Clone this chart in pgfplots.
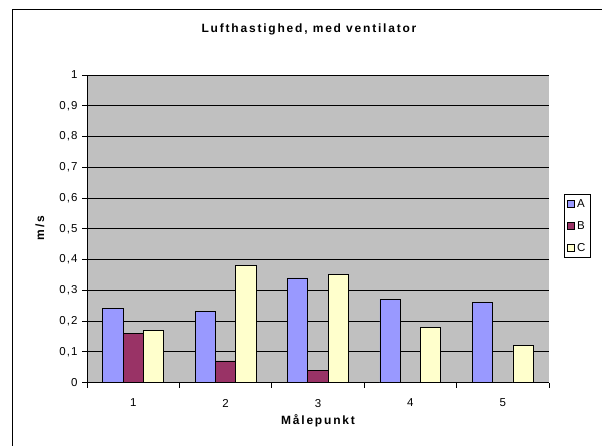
\documentclass[border=0pt]{standalone}
\usepackage{fontspec}
\setmainfont{Liberation Sans}
\newcommand\spbold{\fontsize{12}{14}\selectfont\bfseries\addfontfeature{LetterSpace=15}}
\newfontfamily\tkfont[LetterSpace=9]{Liberation Sans}
\usepackage{pgfplots}
\pgfplotsset{compat=1.18}
\definecolor{ca}{HTML}{9999FF}
\definecolor{cb}{HTML}{993366}
\definecolor{cc}{HTML}{FFFFCC}
\definecolor{bg}{HTML}{C0C0C0}
\begin{document}
\begin{tikzpicture}[x=1pt,y=1pt]
\path[use as bounding box] (0,0) rectangle (602,445);
\draw[line width=1pt] (12,-3) -- (12,435) -- (605,435);
\node at (309,416) {\spbold Lufthastighed, med ventilator};
\begin{axis}[
  at={(87pt,62.5pt)}, anchor=south west,
  width=462pt, height=307.5pt, scale only axis,
  ybar=0pt, bar width=20.3pt,
  xmin=0.5, xmax=5.5, ymin=0, ymax=1,
  axis background/.style={fill=bg},
  axis lines*=left, axis line style={-, black, line width=0.8pt},
  ytick={0,0.1,0.2,0.3,0.4,0.5,0.6,0.7,0.8,0.9,1},
  ymajorgrids, grid style={black, line width=0.7pt},
  xtick={1,2,3,4,5},
  major x tick style={draw=none},
  minor xtick={0.5,1.5,2.5,3.5,4.5,5.5},
  tick align=outside, major tick length=5pt, minor tick length=5pt,
  tick style={black, line width=0.8pt},
  /pgf/number format/assume math mode=true,
  ticklabel style={font=\fontsize{11.5}{13}\selectfont\tkfont},
  xticklabel style={yshift=-8pt},
  yticklabel style={xshift=-1pt, /pgf/number format/.cd, use comma, fixed, precision=1},
  xlabel={Målepunkt}, ylabel={m/s},
  every axis x label/.style={at={(axis description cs:0.5,-0.125)}, anchor=center, font=\spbold},
  every axis y label/.style={at={(axis description cs:-0.102,0.502)}, anchor=center, rotate=90, font=\spbold},
  legend style={at={(rel axis cs:1.0325,0.613)}, anchor=north west, draw=black, line width=0.8pt,
    font=\fontsize{11.5}{13}\selectfont, row sep=8.5pt, inner sep=3pt, cells={anchor=west}},
  legend image code/.code={\draw[#1, draw=black, line width=0.6pt] (0pt,-3.5pt) rectangle (7pt,3.5pt);},
]
\addplot[fill=ca, draw=black, line width=0.8pt] coordinates {(1,0.24) (2,0.23) (3,0.34) (4,0.27) (5,0.26)};
\addplot[fill=cb, draw=black, line width=0.8pt] coordinates {(1,0.16) (2,0.07) (3,0.04) (4,0) (5,0)};
\addplot[fill=cc, draw=black, line width=0.8pt] coordinates {(1,0.17) (2,0.38) (3,0.35) (4,0.18) (5,0.12)};
\legend{A,B,C}
\end{axis}
\end{tikzpicture}
\end{document}
